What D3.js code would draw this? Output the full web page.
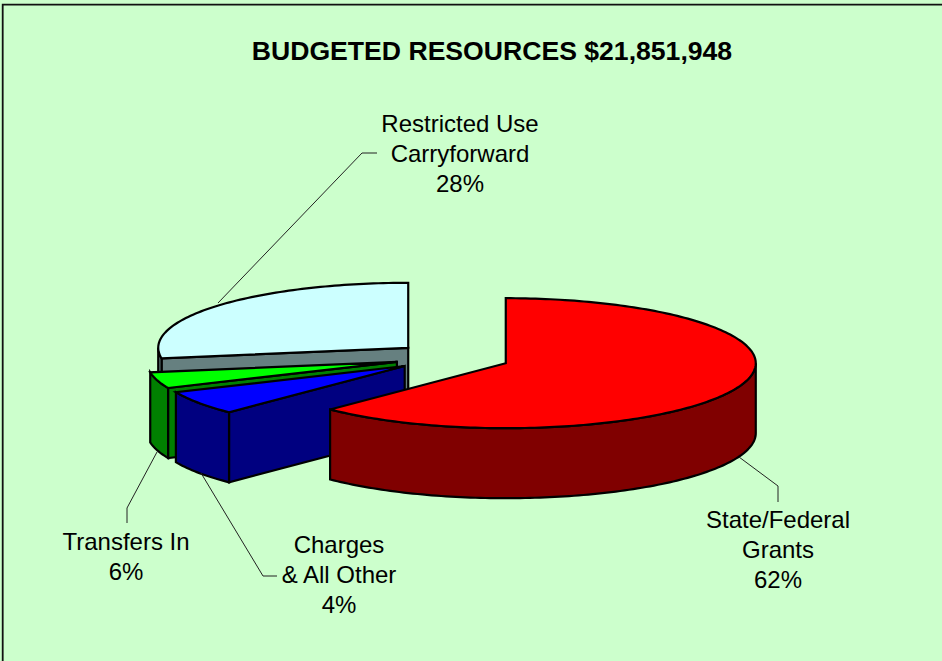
<!DOCTYPE html>
<html>
<head>
<meta charset="utf-8">
<script src="https://cdn.jsdelivr.net/npm/d3@7"></script>
<style>
  html, body { margin: 0; padding: 0; background: #ccffcc; }
  svg { display: block; }
  text { font-family: "Liberation Sans", Arial, sans-serif; fill: #000; }
</style>
</head>
<body>
<svg id="chart" width="942" height="661"></svg>
<script>
const title = "BUDGETED RESOURCES $21,851,948";
const categories = ["State/Federal Grants", "Charges & All Other", "Transfers In", "Restricted Use Carryforward"];
// slice sizes as drawn (the drawn blue and green wedges differ from their printed labels)
const sliceValues = [62.4, 6, 4, 27.6];
const labelLines = [
  ["State/Federal", "Grants", "62%"],
  ["Charges", "& All Other", "4%"],
  ["Transfers In", "6%"],
  ["Restricted Use", "Carryforward", "28%"]
];
const topColors = ["#ff0000", "#0000ff", "#00ff00", "#ccffff"];
const sideColors = ["#800000", "#000080", "#008000", "#668080"];
const labelAnchors = [[778, 528], [339, 553], [126, 550], [460, 132]];
const leaders = [
  [[739, 457], [778, 486], [778, 502]],
  [[201, 473], [263, 576], [277, 576]],
  [[157, 452], [127, 508], [127, 523]],
  [[218, 303], [362, 153], [377, 153]]
];

const svg = d3.select("#chart");
const width = 942, height = 661;

const cx = 452.3, cy = 357.5, rx = 250, ry = 65, depth = 70, explode = 57.8 / 250;

svg.append("rect")
  .attr("width", width).attr("height", height)
  .attr("fill", "#ccffcc");

// frame shows only along the top and left, the rest is cut off
svg.append("path")
  .attr("fill", "none")
  .attr("stroke", "#111")
  .attr("stroke-width", 1.8)
  .attr("d", d3.line()([[2.7, height], [2.7, 4.7], [width, 4.7]]));

svg.append("text")
  .attr("x", 492).attr("y", 60)
  .attr("text-anchor", "middle")
  .attr("font-size", 26.6)
  .attr("font-weight", "bold")
  .text(title);

// unit circle -> screen
const xs = d3.scaleLinear([-1, 1], [cx - rx, cx + rx]);
const ys = d3.scaleLinear([-1, 1], [cy - ry, cy + ry]);

const pie = d3.pie().sort(null)(sliceValues);
const line = d3.line();

function arcPoints(a0, a1, ox, oy, dz) {
  const n = Math.max(2, Math.ceil((a1 - a0) / 0.02));
  return d3.range(n + 1).map((i) => {
    const a = a0 + (a1 - a0) * i / n;
    return [xs(ox + Math.sin(a)), ys(oy - Math.cos(a)) + dz];
  });
}

// back to front
const order = [3, 2, 1, 0];

order.forEach((i) => {
  const d = pie[i];
  const mid = (d.startAngle + d.endAngle) / 2;
  const ox = Math.sin(mid) * explode;
  const oy = -Math.cos(mid) * explode;
  const apex = [xs(ox), ys(oy)];
  const g = svg.append("g")
    .attr("stroke", "#000")
    .attr("stroke-width", 2.2)
    .attr("stroke-linejoin", "miter");

  // cut face at the start angle shows only for slices on the left side
  if (d.startAngle > Math.PI) {
    const outer = arcPoints(d.startAngle, d.startAngle, ox, oy, 0)[0];
    g.append("path")
      .attr("fill", sideColors[i])
      .attr("d", line([apex, outer, [outer[0], outer[1] + depth], [apex[0], apex[1] + depth]]) + "Z");
  }

  // outer wall, only the front half of the rim
  const w0 = Math.max(d.startAngle, Math.PI / 2);
  const w1 = Math.min(d.endAngle, Math.PI * 1.5);
  if (w1 > w0) {
    const rimTop = arcPoints(w0, w1, ox, oy, 0);
    const rimBottom = arcPoints(w0, w1, ox, oy, depth).reverse();
    g.append("path")
      .attr("fill", sideColors[i])
      .attr("d", line(rimTop.concat(rimBottom)) + "Z");
  }

  // top
  g.append("path")
    .attr("fill", topColors[i])
    .attr("d", line([apex].concat(arcPoints(d.startAngle, d.endAngle, ox, oy, 0))) + "Z");
});

// leader lines
svg.append("g")
  .selectAll("path")
  .data(leaders)
  .join("path")
  .attr("fill", "none")
  .attr("stroke", "#222")
  .attr("stroke-width", 1)
  .attr("d", (d) => line(d));

// labels
categories.forEach((c, i) => {
  const t = svg.append("text")
    .attr("text-anchor", "middle")
    .attr("font-size", 24)
    .attr("transform", `translate(${labelAnchors[i]})`);
  labelLines[i].forEach((l, j) => {
    t.append("tspan").attr("x", 0).attr("y", j * 30).text(l);
  });
});
</script>
</body>
</html>
